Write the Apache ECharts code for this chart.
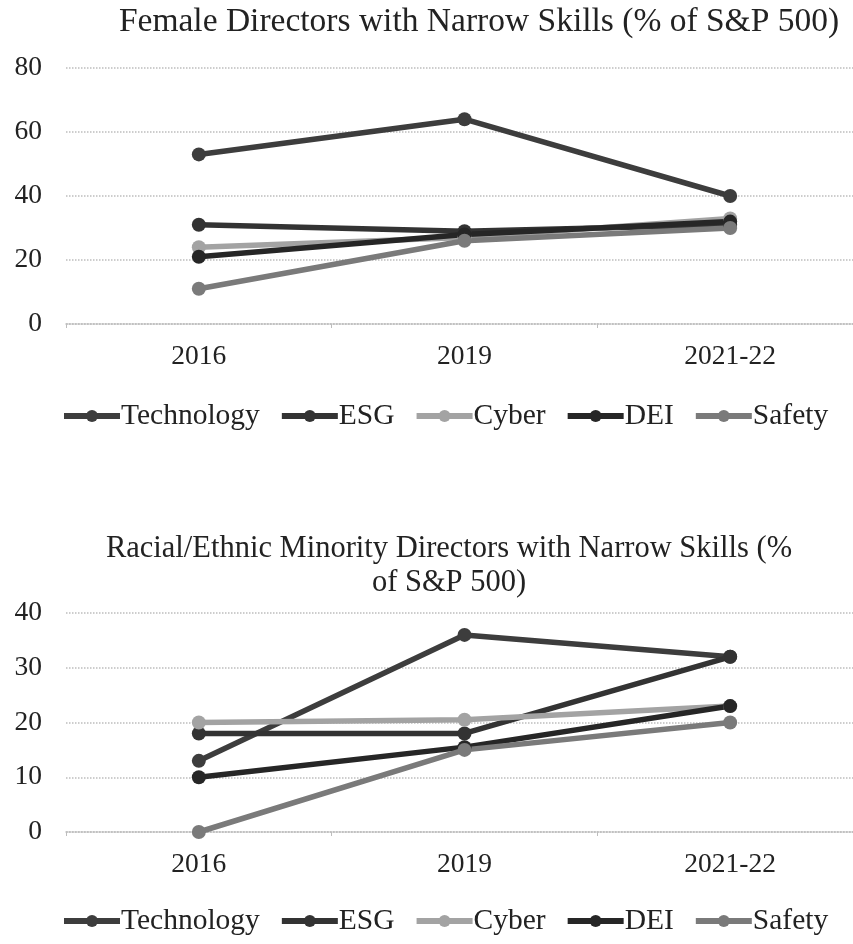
<!DOCTYPE html>
<html>
<head>
<meta charset="utf-8">
<script src="https://cdn.jsdelivr.net/npm/echarts@6/dist/echarts.min.js"></script>
<style>html,body{margin:0;padding:0;background:#fff;}#c{width:853px;height:944px;}</style>
</head>
<body>
<div id="c"></div>
<script>
var categories = ['2016', '2019', '2021-22'];
var seriesNames = ['Technology', 'ESG', 'Cyber', 'DEI', 'Safety'];
// Female directors (% of S&P 500)
var femaleTechnology = [53, 64, 40];
var femaleESG = [31, 29, 31];
var femaleCyber = [24, 27, 33];
var femaleDEI = [21, 28, 32];
var femaleSafety = [11, 26, 30];
// Racial/ethnic minority directors (% of S&P 500)
var minorityTechnology = [13, 36, 32];
var minorityESG = [18, 18, 32];
var minorityCyber = [20, 20.5, 23];
var minorityDEI = [10, 15.5, 23];
var minoritySafety = [0, 15, 20];
var yTicks1 = [0, 20, 40, 60, 80];
var yTicks2 = [0, 10, 20, 30, 40];

var colors = ['#3d3d3d', '#333333', '#a3a3a3', '#262626', '#7a7a7a'];
var font = '"Liberation Serif", "Times New Roman", serif';

var femaleData = [femaleTechnology, femaleESG, femaleCyber, femaleDEI, femaleSafety];
var minorityData = [minorityTechnology, minorityESG, minorityCyber, minorityDEI, minoritySafety];

function mkSeries(dataArr, idx) {
  return seriesNames.map(function (n, i) {
    return {
      name: n, type: 'line', xAxisIndex: idx, yAxisIndex: idx,
      data: dataArr[i], symbol: 'circle', symbolSize: 14,
      lineStyle: { width: 5.5, color: colors[i] },
      itemStyle: { color: colors[i] },
      emphasis: { disabled: true }
    };
  });
}

function xAxis(idx) {
  return {
    type: 'category', gridIndex: idx, data: categories, boundaryGap: true,
    axisLine: { show: true, lineStyle: { color: '#bdbdbd', type: 'dotted', width: 1.5 } },
    axisTick: { show: true, length: 4, lineStyle: { color: '#bdbdbd' } },
    axisLabel: { color: '#222', fontFamily: font, fontSize: 27.5, margin: 19 }
  };
}
function yAxis(idx, ticks) {
  return {
    type: 'value', gridIndex: idx, min: ticks[0], max: ticks[ticks.length - 1],
    interval: ticks[1] - ticks[0],
    axisLine: { show: false }, axisTick: { show: false },
    axisLabel: { color: '#222', fontFamily: font, fontSize: 27.5, margin: 24 },
    splitLine: { show: true, lineStyle: { color: '#bdbdbd', type: 'dotted', width: 1.5 } }
  };
}
function legend(top) {
  return {
    top: top, left: 61, padding: 0, data: seriesNames, itemWidth: 56, itemHeight: 15, itemGap: 19,
    lineStyle: { width: 6 },
    textStyle: { fontFamily: font, fontSize: 29.5, color: '#222', padding: [0, 0, 0, -4] },
    selectedMode: false
  };
}

var chart = echarts.init(document.getElementById('c'), null, { renderer: 'canvas' });
chart.setOption({
  animation: false,
  backgroundColor: '#fff',
  color: colors,
  title: [
    { text: 'Female Directors with Narrow Skills (% of S&P 500)', left: 474, top: 0,
      textAlign: 'center',
      textStyle: { fontFamily: font, fontSize: 33.5, fontWeight: 'normal', color: '#222' } },
    { text: 'Racial/Ethnic Minority Directors with Narrow Skills (%\nof S&P 500)', left: 444, top: 527,
      textAlign: 'center',
      textStyle: { fontFamily: font, fontSize: 30.5, fontWeight: 'normal', color: '#222', lineHeight: 34, align: 'center' } }
  ],
  legend: [legend(401), legend(906)],
  grid: [
    { left: 66, width: 797, top: 68, height: 256, outerBoundsMode: 'none' },
    { left: 66, width: 797, top: 613, height: 219, outerBoundsMode: 'none' }
  ],
  xAxis: [xAxis(0), xAxis(1)],
  yAxis: [yAxis(0, yTicks1), yAxis(1, yTicks2)],
  series: mkSeries(femaleData, 0).concat(mkSeries(minorityData, 1))
});
</script>
</body>
</html>
